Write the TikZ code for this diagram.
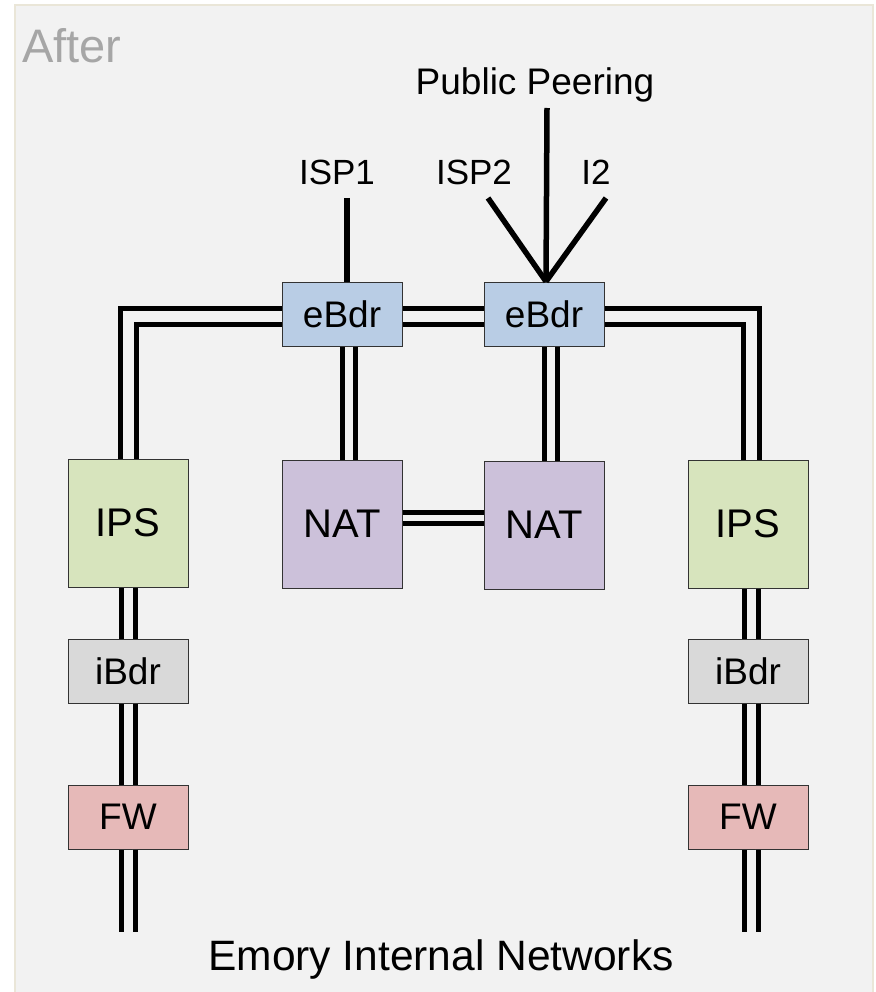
\documentclass[tikz,border=0pt]{standalone}
\usepackage{fontspec}
\setmainfont{Liberation Sans}
\definecolor{bgfill}{HTML}{F2F2F2}
\definecolor{bgline}{HTML}{EAE6D8}
\definecolor{ebdrfill}{HTML}{B9CDE5}
\definecolor{ipsfill}{HTML}{D7E4BD}
\definecolor{natfill}{HTML}{CCC1DA}
\definecolor{ibdrfill}{HTML}{D9D9D9}
\definecolor{fwfill}{HTML}{E6B9B8}
\definecolor{aftergray}{HTML}{A6A6A6}
\tikzstyle{device} = [rectangle, draw=black!80, line width=1pt, minimum width=120pt, minimum height=64pt, inner sep=0pt, text centered, font=\fontsize{37pt}{40pt}\selectfont]
\tikzstyle{bigdevice} = [device, minimum height=128pt, font=\fontsize{40pt}{44pt}\selectfont]
\tikzstyle{link} = [line width=5pt, double=bgfill, double distance=9pt]
\tikzstyle{uplink} = [line width=5.5pt]
\tikzstyle{uplabel} = [anchor=base, inner sep=0pt, font=\fontsize{35pt}{38pt}\selectfont]

\begin{document}
\begin{tikzpicture}[x=1pt, y=-1pt]
\useasboundingbox (0,0) rectangle (875,992);
\draw [fill=bgfill, draw=bgline, line width=1.5pt] (15,5) rectangle (873,1000);
\node (after) [anchor=base west, inner sep=0pt, text=aftergray, font=\fontsize{47pt}{50pt}\selectfont] at (22,63) {After};
% devices
\node (ebdr1) [device, fill=ebdrfill] at (342,314) {eBdr};
\node (ebdr2) [device, fill=ebdrfill] at (544,314) {eBdr};
\node (nat1) [bigdevice, fill=natfill, below of=ebdr1, node distance=210pt] {NAT};
\node (nat2) [bigdevice, fill=natfill, below of=ebdr2, node distance=211pt] {NAT};
\node (ips1) [bigdevice, fill=ipsfill] at (128,523) {IPS};
\node (ips2) [bigdevice, fill=ipsfill] at (748,524) {IPS};
\node (ibdr1) [device, fill=ibdrfill, below of=ips1, node distance=148pt] {iBdr};
\node (ibdr2) [device, fill=ibdrfill, below of=ips2, node distance=147pt] {iBdr};
\node (fw1) [device, fill=fwfill, below of=ibdr1, node distance=146pt] {FW};
\node (fw2) [device, fill=fwfill, below of=ibdr2, node distance=146pt] {FW};
% upstream and inside
\node (isp1) [uplabel] at (337,185) {ISP1};
\node (isp2) [uplabel] at (474,185) {ISP2};
\node (i2) [uplabel] at (596,185) {I2};
\node (peering) [uplabel, font=\fontsize{37pt}{40pt}\selectfont] at (535,95) {Public Peering};
\node (inside) [anchor=base, inner sep=0pt, font=\fontsize{42.5pt}{46pt}\selectfont] at (441,970) {Emory Internal Networks};
\coordinate (isp1end) at (347,198);
\coordinate (isp2end) at (488,198);
\coordinate (i2end) at (606,198);
\coordinate (peerend) at (547,108);
\coordinate (hub) at ([xshift=2pt]ebdr2.north);
\coordinate (out1) at (128,932);
\coordinate (out2) at (751,932);
% single uplinks
\draw [uplink] (isp1end) -- (isp1end |- ebdr1.north);
\draw [uplink] (peerend) -- (hub);
\draw [uplink] (isp2end) -- (hub);
\draw [uplink] (i2end) -- (hub);
% double links
\draw [link, double distance=11pt] ([yshift=-2pt]ebdr1.east) -- ([yshift=-2pt]ebdr2.west);
\draw [link, double distance=11pt] ([yshift=-2pt]ebdr1.west) -| (ips1.north);
\draw [link, double distance=11pt] ([yshift=-2pt]ebdr2.east) -| ([xshift=3pt]ips2.north);
\draw [link, double distance=8pt] ([xshift=7pt]ebdr1.south) -- ([xshift=7pt]nat1.north);
\draw [link, double distance=8pt] ([xshift=7pt]ebdr2.south) -- ([xshift=7pt]nat2.north);
\draw [link, double distance=6pt] ([yshift=6pt]nat1.east) -- ([yshift=6pt]nat1.east -| nat2.west);
\draw [link] (ips1) -- (ibdr1);
\draw [link] (ibdr1) -- (fw1);
\draw [link] (fw1) -- (out1);
\draw [link] ([xshift=3pt]ips2.south) -- ([xshift=3pt]ibdr2.north);
\draw [link] ([xshift=3pt]ibdr2.south) -- ([xshift=3pt]fw2.north);
\draw [link] ([xshift=3pt]fw2.south) -- (out2);
\end{tikzpicture}
\end{document}
